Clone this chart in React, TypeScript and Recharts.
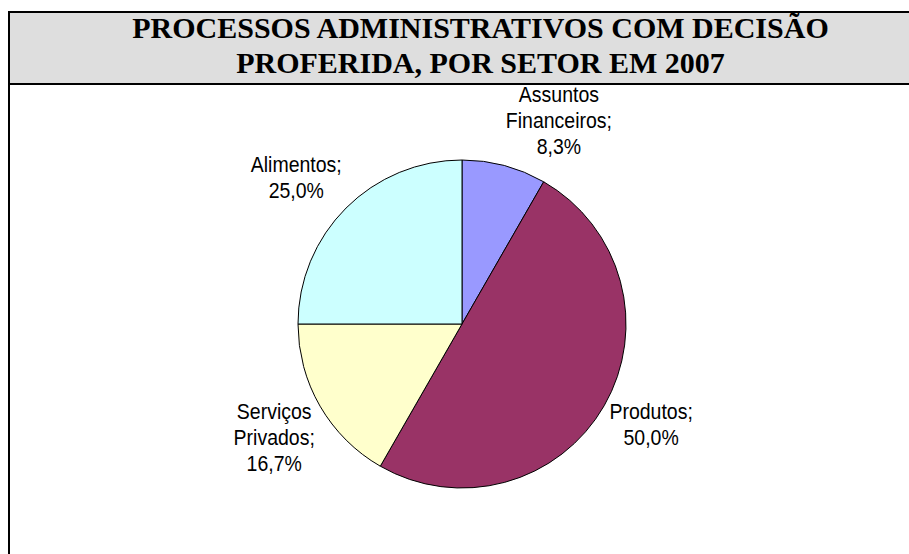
import React from 'react';
import { PieChart, Pie, Cell } from 'recharts';

const sectors = ['Assuntos Financeiros', 'Produtos', 'Serviços Privados', 'Alimentos'];
const shares = [8.3, 50.0, 16.7, 25.0];
const sliceColors = ['#9999FF', '#993366', '#FFFFCC', '#CCFFFF'];
const titleLines = ['PROCESSOS ADMINISTRATIVOS COM DECISÃO', 'PROFERIDA, POR SETOR EM 2007'];

const data = sectors.map((name, i) => ({ name, value: shares[i] }));
const total = shares.reduce((a, b) => a + b, 0);

const RAD = Math.PI / 180;
const LINE_H = 26;
const FONT_SIZE = 19.5;
const STRETCH = 1.12;
const LABEL_FONT = "'Liberation Sans', Arial, sans-serif";

let ctx: CanvasRenderingContext2D | null = null;
function textWidth(s: string) {
  if (!ctx) {
    ctx = document.createElement('canvas').getContext('2d');
  }
  if (!ctx) return s.length * FONT_SIZE * 0.5;
  ctx.font = `${FONT_SIZE}px ${LABEL_FONT}`;
  return ctx.measureText(s).width;
}

// Excel-like placement: the label box's inner corner sits just outside the slice
function renderLabel(props: any) {
  const { cx, cy, midAngle, outerRadius, name, value } = props;
  const r = outerRadius + 6;
  const cos = Math.cos(-midAngle * RAD);
  const sin = Math.sin(-midAngle * RAD);
  const ax = cx + r * cos;
  const ay = cy + r * sin;
  const words = String(name).split(' ');
  words[words.length - 1] += ';';
  const pct = ((value / total) * 100).toFixed(1).replace('.', ',') + '%';
  const lines = [...words, pct];
  const w = Math.max(...lines.map(textWidth));
  const x = ax + (cos >= 0 ? w / 2 : -w / 2);
  // first baseline: above the slice the block ends at the anchor, below it starts there
  const firstBase = sin < 0 ? ay - 6 - (lines.length - 1) * LINE_H : ay + 10;
  return (
    <g>
      {lines.map((l, i) => (
        <text
          key={i}
          transform={`translate(${x},${firstBase + i * LINE_H}) scale(1,${STRETCH})`}
          x={0}
          y={0}
          textAnchor="middle"
          fill="#000"
          fontFamily={LABEL_FONT}
          fontSize={FONT_SIZE}
        >
          {l}
        </text>
      ))}
    </g>
  );
}

export default function App() {
  return (
    <div
      style={{
        position: 'absolute',
        left: 0,
        top: 0,
        width: 909,
        height: 554,
        overflow: 'hidden',
        background: '#fff',
      }}
    >
      <div
        style={{
          position: 'absolute',
          left: 8,
          top: 11,
          width: 941,
          height: 70,
          border: '2px solid #000',
          background: '#dedede',
        }}
      />
      <div
        style={{
          position: 'absolute',
          left: 8,
          top: 10,
          width: 945,
          fontFamily: "'Liberation Serif', 'Times New Roman', serif",
          fontWeight: 'bold',
          fontSize: 30,
          lineHeight: '35px',
          textAlign: 'center',
          color: '#000',
          whiteSpace: 'nowrap',
        }}
      >
        {titleLines.map((t, i) => (
          <div key={i}>{t}</div>
        ))}
      </div>
      <div
        style={{
          position: 'absolute',
          left: 8,
          top: 85,
          width: 2,
          height: 469,
          background: '#000',
        }}
      />
      <div style={{ position: 'absolute', left: 0, top: 0 }}>
        <PieChart width={909} height={554} margin={{ top: 0, right: 0, bottom: 0, left: 0 }}>
          <Pie
            data={data}
            dataKey="value"
            nameKey="name"
            cx={462}
            cy={324}
            outerRadius={164}
            startAngle={90}
            endAngle={-270}
            stroke="#000"
            strokeWidth={1}
            label={renderLabel}
            labelLine={false}
            isAnimationActive={false}
          >
            {data.map((d, i) => (
              <Cell key={d.name} fill={sliceColors[i]} />
            ))}
          </Pie>
        </PieChart>
      </div>
    </div>
  );
}
